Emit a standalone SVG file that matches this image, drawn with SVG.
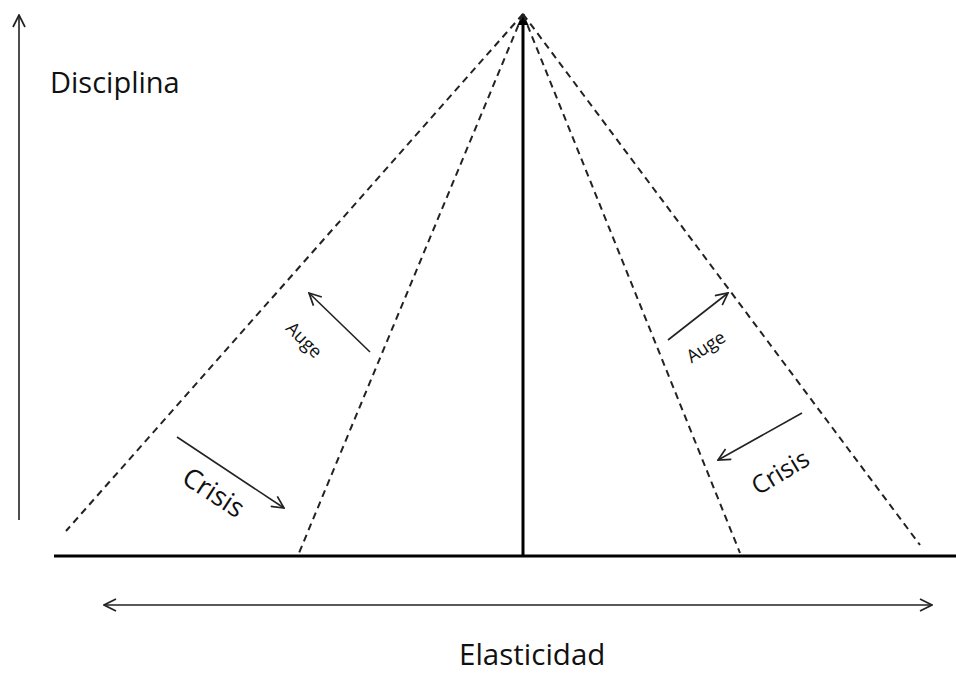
<svg xmlns="http://www.w3.org/2000/svg" width="956" height="674" viewBox="0 0 956 674">
  <style>
    .axis { stroke: #000; stroke-width: 3; fill: none; }
    .thin { stroke: #222; stroke-width: 1.6; fill: none; }
    .dash { stroke: #222; stroke-width: 2; stroke-dasharray: 7 5; fill: none; }
    .lbl { font-family: "Open Sans", "Noto Sans", "Liberation Sans", sans-serif; fill: #111; }
  </style>
  <defs>
    <marker id="open" viewBox="0 0 14 14" refX="13" refY="7" markerWidth="14" markerHeight="14" markerUnits="userSpaceOnUse" orient="auto-start-reverse">
      <path d="M1,1 L13,7 L1,13" fill="none" stroke="#222" stroke-width="1.7"/>
    </marker>
    <marker id="solid" viewBox="0 0 12 12" refX="11" refY="6" markerWidth="12" markerHeight="12" markerUnits="userSpaceOnUse" orient="auto">
      <path d="M0,0.5 L12,6 L0,11.5 Z" fill="#000"/>
    </marker>
  </defs>

  <rect width="956" height="674" fill="#fff"/>

  <!-- axes and boundary lines -->
  <g id="connectors">
    <line class="thin" x1="19" y1="520" x2="19" y2="15" marker-end="url(#open)"/>
    <line class="axis" x1="54" y1="556" x2="956" y2="556"/>
    <line class="axis" x1="523" y1="556" x2="523" y2="14" marker-end="url(#solid)"/>
    <line class="thin" x1="104" y1="605" x2="932" y2="605" marker-start="url(#open)" marker-end="url(#open)"/>

    <line class="dash" x1="523" y1="14" x2="66" y2="531"/>
    <line class="dash" x1="523" y1="14" x2="299" y2="553"/>
    <line class="dash" x1="523" y1="14" x2="740" y2="553"/>
    <line class="dash" x1="523" y1="14" x2="920" y2="545"/>

    <line class="thin" x1="370" y1="352" x2="309" y2="293" marker-end="url(#open)"/>
    <line class="thin" x1="177" y1="437" x2="284" y2="508" marker-end="url(#open)"/>
    <line class="thin" x1="668" y1="340" x2="728" y2="293" marker-end="url(#open)"/>
    <line class="thin" x1="802" y1="413" x2="718" y2="460" marker-end="url(#open)"/>
  </g>

  <g id="disciplina">
    <text class="lbl" x="50" y="93" font-size="29">Disciplina</text>
  </g>
  <g id="elasticidad">
    <text class="lbl" x="459" y="665" font-size="29.5">Elasticidad</text>
  </g>

  <g id="auge-left" transform="translate(304,340) rotate(45)">
    <text class="lbl" x="0" y="6" font-size="18" text-anchor="middle">Auge</text>
  </g>
  <g id="crisis-left" transform="translate(214,492) rotate(33)">
    <text class="lbl" x="0" y="10" font-size="27" text-anchor="middle">Crisis</text>
  </g>
  <g id="auge-right" transform="translate(706,347) rotate(-33)">
    <text class="lbl" x="0" y="6" font-size="18" text-anchor="middle">Auge</text>
  </g>
  <g id="crisis-right" transform="translate(780,472) rotate(-31)">
    <text class="lbl" x="0" y="9" font-size="25" text-anchor="middle">Crisis</text>
  </g>
</svg>
